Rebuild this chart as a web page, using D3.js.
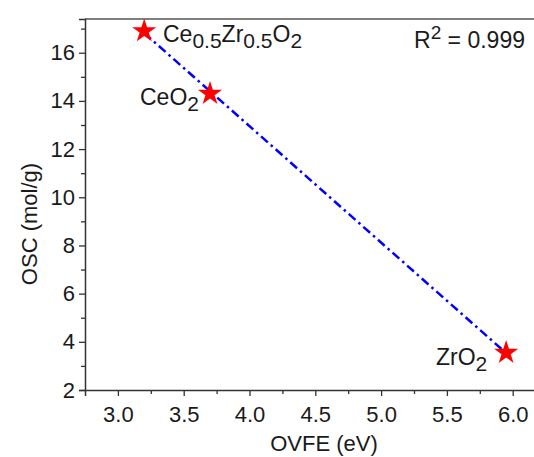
<!DOCTYPE html>
<html>
<head>
<meta charset="utf-8">
<script src="https://cdn.jsdelivr.net/npm/d3@7"></script>
<style>
  body { margin: 0; background: #fff; }
  text { font-family: "Liberation Sans", Arial, sans-serif; fill: #1a1a1a; }
</style>
</head>
<body>
<div class="canvas"></div>
<script>
// data
const names = ['Ce0.5Zr0.5O2', 'CeO2', 'ZrO2'];
const ovfe = [3.2, 3.7, 5.95];
const osc = [16.9, 14.3, 3.55];
const xTicks = [3.0, 3.5, 4.0, 4.5, 5.0, 5.5, 6.0];
const yTicks = [2, 4, 6, 8, 10, 12, 14, 16];
const rSquared = '0.999';

const dims = { width: 534, height: 457 };
const m = { left: 85, top: 19, bottom: 390 };

const svg = d3.select('.canvas')
  .append('svg')
    .attr('width', dims.width)
    .attr('height', dims.height)

const x = d3.scaleLinear().domain([2.75, 6.25]).range([m.left, m.left + 3.5 * 131.6])
const y = d3.scaleLinear().domain([2, 17.4]).range([m.bottom, m.top])

// frame top line
svg.append('line')
  .attr('x1', x(2.75)).attr('x2', x(6.25))
  .attr('y1', m.top).attr('y2', m.top)
  .attr('stroke', '#555').attr('stroke-width', 1.5)

// minor ticks
const xMinor = d3.range(3.25, 6.25, 0.5)
const yMinor = d3.range(3, 17.5, 2)

svg.append('g')
  .attr('transform', `translate(0, ${m.bottom})`)
  .call(d3.axisBottom(x).tickValues(xTicks).tickFormat(d3.format('.1f')).tickSize(6).tickPadding(10))
svg.append('g')
  .attr('transform', `translate(0, ${m.bottom})`)
  .call(d3.axisBottom(x).tickValues(xMinor).tickFormat('').tickSize(4))
  .select('.domain').remove()

svg.append('g')
  .attr('transform', `translate(${m.left}, 0)`)
  .call(d3.axisLeft(y).tickValues(yTicks).tickSize(6).tickPadding(4))
svg.append('g')
  .attr('transform', `translate(${m.left}, 0)`)
  .call(d3.axisLeft(y).tickValues(yMinor).tickFormat('').tickSize(4))
  .select('.domain').remove()

svg.selectAll('.domain').attr('stroke', '#333').attr('stroke-width', 1.5)
svg.selectAll('.tick line').attr('stroke', '#333').attr('stroke-width', 1.3)
svg.selectAll('.tick text')
  .attr('font-size', 22)
  .attr('fill', '#1a1a1a')
  .attr('font-family', '"Liberation Sans", Arial, sans-serif')

// axis titles
svg.append('text')
  .attr('x', 324).attr('y', 451)
  .attr('text-anchor', 'middle')
  .attr('font-size', 22)
  .text('OVFE (eV)')

svg.append('text')
  .attr('transform', `translate(37, 224) rotate(-90)`)
  .attr('text-anchor', 'middle')
  .attr('font-size', 22)
  .text('OSC (mol/g)')

// linear fit
const mx = d3.mean(ovfe), my = d3.mean(osc)
const slope = d3.sum(ovfe.map((v, i) => (v - mx) * (osc[i] - my))) / d3.sum(ovfe.map(v => (v - mx) ** 2))
const icpt = my - slope * mx
const xr = d3.extent(ovfe)

svg.append('path')
  .attr('d', d3.line().x(d => x(d)).y(d => y(icpt + slope * d))(xr))
  .attr('stroke', '#0000ff')
  .attr('stroke-width', 2.5)
  .attr('stroke-dasharray', '9,4,2.5,4')
  .attr('fill', 'none')

// stars
svg.selectAll('.star')
  .data(ovfe)
  .enter()
  .append('path')
    .attr('class', 'star')
    .attr('d', d3.symbol().type(d3.symbolStar).size(180))
    .attr('transform', (d, i) => `translate(${x(d)}, ${y(osc[i])})`)
    .attr('fill', '#ff0000')

// labels with subscripts
const label = (px, py, parts) => {
  const t = svg.append('text').attr('x', px).attr('y', py).attr('font-size', 23)
  let shift = 0
  parts.forEach(p => {
    const dy = p.sub ? 6 - shift : -shift
    shift = p.sub ? 6 : 0
    t.append('tspan')
      .attr('dy', dy)
      .attr('font-size', p.sub ? 21 : 23)
      .text(p.t)
  })
  return t
}

label(163, 42, [{ t: 'Ce' }, { t: '0.5', sub: true }, { t: 'Zr' }, { t: '0.5', sub: true }, { t: 'O' }, { t: '2', sub: true }])
label(140, 105, [{ t: 'CeO' }, { t: '2', sub: true }])
label(436, 365, [{ t: 'ZrO' }, { t: '2', sub: true }])

// R squared
const r2 = svg.append('text').attr('x', 414).attr('y', 48).attr('font-size', 23)
r2.append('tspan').text('R')
r2.append('tspan').attr('dy', -9).attr('font-size', 19).text('2')
r2.append('tspan').attr('dy', 9).text(' = ' + rSquared)
</script>
</body>
</html>
